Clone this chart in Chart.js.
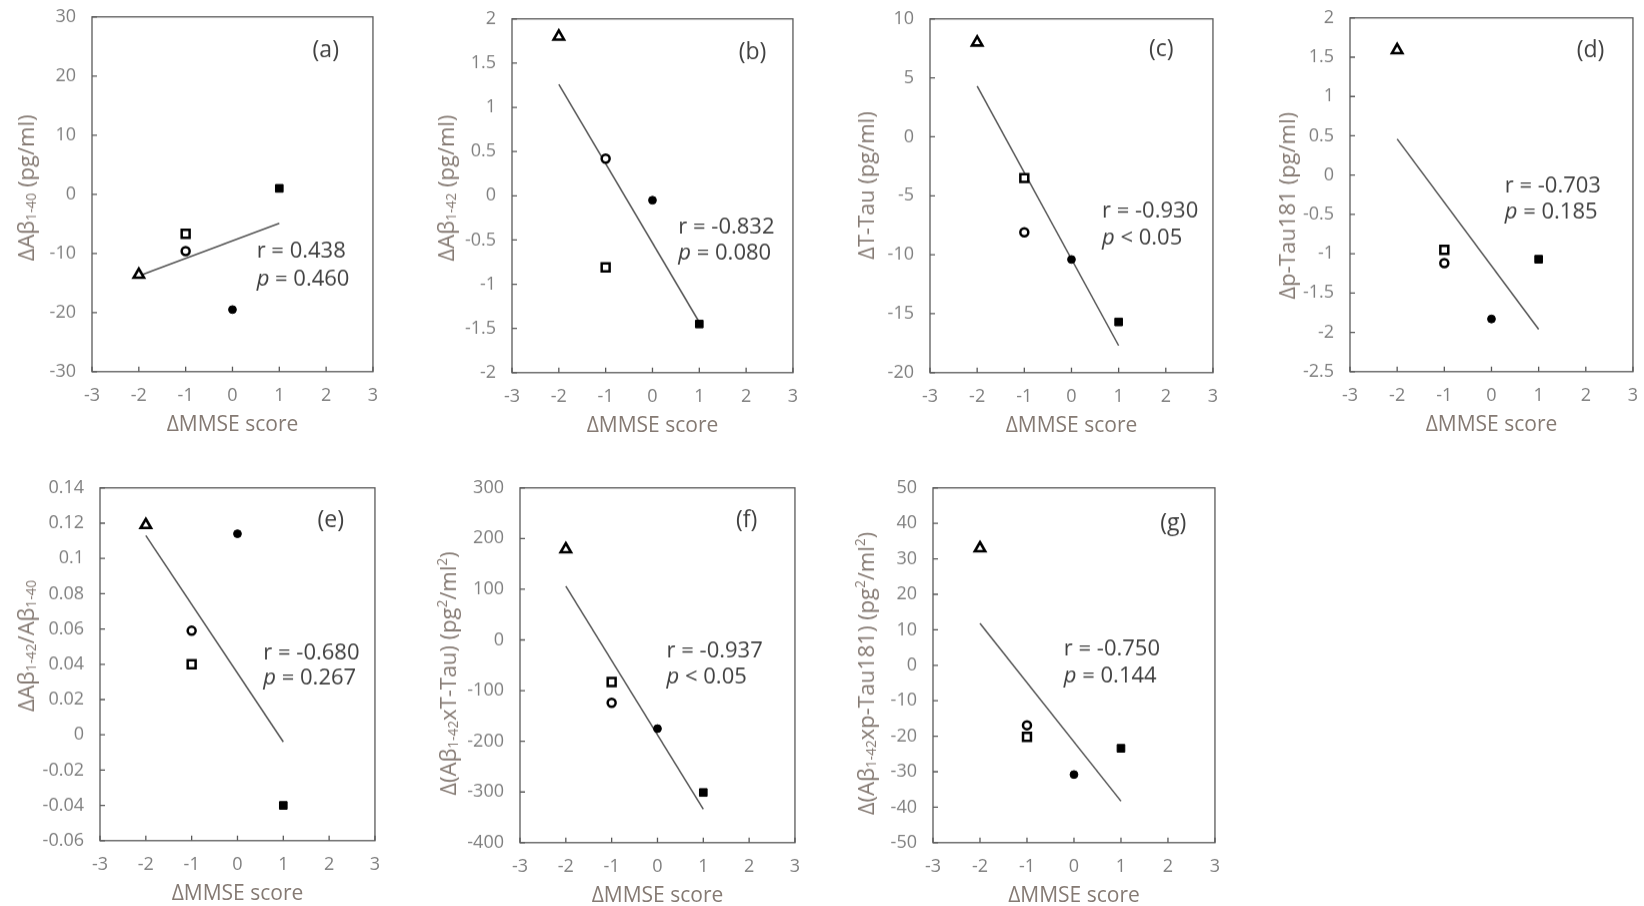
<!DOCTYPE html>
<html>
<head>
<meta charset="utf-8">
<script src="https://cdn.jsdelivr.net/npm/chart.js@4.4.1/dist/chart.umd.min.js"></script>
<style>
  html, body { margin: 0; padding: 0; background: #fff; overflow: hidden; }
  #wrap { position: relative; width: 1644px; height: 906px; }
  canvas { position: absolute; }
</style>
</head>
<body>
<div id="wrap"></div>
<script>
// subjects, in marker order: triangle, open circle, open square, filled circle, filled square
const mmse = [-2, -1, -1, 0, 1];
const fitX = [-2, 1];

const dAb40 = [-13.6, -9.6, -6.7, -19.5, 1.0];
const fitAb40 = [-13.8, -4.9];
const dAb42 = [1.80, 0.42, -0.81, -0.05, -1.45];
const fitAb42 = [1.26, -1.43];
const dTTau = [8.0, -8.1, -3.5, -10.4, -15.7];
const fitTTau = [4.3, -17.7];
const dPTau = [1.59, -1.12, -0.95, -1.83, -1.07];
const fitPTau = [0.46, -1.96];
const dRatio = [0.119, 0.059, 0.040, 0.114, -0.040];
const fitRatio = [0.113, -0.004];
const dAbxT = [179, -124, -83, -175, -301];
const fitAbxT = [106, -334];
const dAbxP = [33.0, -16.9, -20.2, -30.8, -23.4];
const fitAbxP = [11.8, -38.3];

const panelLetters = ['(a)', '(b)', '(c)', '(d)', '(e)', '(f)', '(g)'];
const rText = ['r = 0.438', 'r = -0.832', 'r = -0.930', 'r = -0.703', 'r = -0.680', 'r = -0.937', 'r = -0.750'];
const pText = [' = 0.460', ' = 0.080', ' < 0.05', ' = 0.185', ' = 0.267', ' < 0.05', ' = 0.144'];
const yTitles = [
  'ΔAβ_{1-40} (pg/ml)',
  'ΔAβ_{1-42} (pg/ml)',
  'ΔT-Tau (pg/ml)',
  'Δp-Tau181 (pg/ml)',
  'ΔAβ_{1-42}/Aβ_{1-40}',
  'Δ(Aβ_{1-42}xT-Tau) (pg^{2}/ml^{2})',
  'Δ(Aβ_{1-42}xp-Tau181) (pg^{2}/ml^{2})'
];
const xTitle = 'ΔMMSE score';
const yMin = [-30, -2, -20, -2.5, -0.06, -400, -50];
const yMax = [30, 2, 10, 2, 0.14, 300, 50];
const yStep = [10, 0.5, 5, 0.5, 0.02, 100, 10];

const ys = [dAb40, dAb42, dTTau, dPTau, dRatio, dAbxT, dAbxP];
const fits = [fitAb40, fitAb42, fitTTau, fitPTau, fitRatio, fitAbxT, fitAbxP];

// layout: plot box on the page, title offsets, annotation spots (fractions of plot area)
const boxes = [
  { l: 92, t: 17, r: 373, b: 371, yto: 64, ytm: 0.482, let: [0.832, 0.094], rp: [0.586, 0.661, 0.739] },
  { l: 512, t: 19, r: 793, b: 372, yto: 64, ytm: 0.478, let: [0.856, 0.095], rp: [0.592, 0.589, 0.664] },
  { l: 930, t: 19, r: 1213, b: 372, yto: 62, ytm: 0.471, let: [0.817, 0.088], rp: [0.608, 0.544, 0.619] },
  { l: 1350, t: 18, r: 1633, b: 371, yto: 61, ytm: 0.531, let: [0.850, 0.093], rp: [0.547, 0.476, 0.550] },
  { l: 100, t: 488, r: 375, b: 840, yto: 72, ytm: 0.448, let: [0.839, 0.094], rp: [0.594, 0.468, 0.541] },
  { l: 520, t: 488, r: 795, b: 842, yto: 70, ytm: 0.523, let: [0.824, 0.093], rp: [0.533, 0.459, 0.534] },
  { l: 933, t: 488, r: 1215, b: 842, yto: 65, ytm: 0.523, let: [0.852, 0.101], rp: [0.464, 0.456, 0.531] }
];

const YW = 90, XH = 70;
const FONT = '"Open Sans", "DejaVu Sans", sans-serif';
const tickColor = '#7f7f7f';
const titleColor = '#857a73';
const textColor = '#404040';
const axisColor = '#595959';

const markerStyle = ['triangle', 'circle', 'rect', 'circle', 'rect'];
const markerFill = ['#fff', '#fff', '#fff', '#000', '#000'];
const markerRadius = [6.0, 4.0, 5.6, 3.9, 5.4];
const markerBorder = [2.6, 2.5, 2.5, 1, 1];

function parseRich(s) {
  const out = [];
  const re = /([_^])\{([^}]*)\}|([^_^]+)/g;
  let m;
  while ((m = re.exec(s))) {
    if (m[3]) out.push({ t: m[3], k: 0 });
    else out.push({ t: m[2], k: m[1] === '_' ? -1 : 1 });
  }
  return out;
}

function drawRich(ctx, parts, x, y, size) {
  let w = 0;
  parts.forEach(p => {
    ctx.font = (p.k ? size * 0.62 : size) + 'px ' + FONT;
    p.w = ctx.measureText(p.t).width;
    w += p.w;
  });
  let cx = x - w / 2;
  parts.forEach(p => {
    ctx.font = (p.k ? size * 0.62 : size) + 'px ' + FONT;
    const dy = p.k < 0 ? size * 0.2 : p.k > 0 ? -size * 0.3 : 0;
    ctx.fillText(p.t, cx, y + dy);
    cx += p.w;
  });
}

const framePlugin = {
  id: 'frame',
  beforeDatasetsDraw(chart) {
    const { ctx, chartArea: a, scales } = chart;
    ctx.save();
    ctx.strokeStyle = axisColor;
    ctx.lineWidth = 1.3;
    ctx.strokeRect(a.left, a.top, a.right - a.left, a.bottom - a.top);
    ctx.beginPath();
    scales.x.ticks.forEach(t => {
      const px = scales.x.getPixelForValue(t.value);
      ctx.moveTo(px, a.bottom);
      ctx.lineTo(px, a.bottom - 5);
    });
    scales.y.ticks.forEach(t => {
      const py = scales.y.getPixelForValue(t.value);
      ctx.moveTo(a.left, py);
      ctx.lineTo(a.left + 5, py);
    });
    ctx.stroke();
    ctx.restore();
  },
  afterDraw(chart) {
    const o = chart.options.plugins.frame;
    const { ctx, chartArea: a } = chart;
    const w = a.right - a.left, h = a.bottom - a.top;
    ctx.save();
    ctx.textBaseline = 'middle';
    // y title
    ctx.fillStyle = titleColor;
    ctx.translate(a.left - o.yto, a.top + o.ytm * h);
    ctx.rotate(-Math.PI / 2);
    drawRich(ctx, parseRich(o.yTitle), 0, 0, 22);
    ctx.setTransform(1, 0, 0, 1, 0, 0);
    // panel letter
    ctx.fillStyle = textColor;
    ctx.textAlign = 'center';
    ctx.font = '23px ' + FONT;
    ctx.fillText(o.letter, a.left + o.let[0] * w, a.top + o.let[1] * h);
    // r and p
    ctx.textAlign = 'left';
    ctx.font = '22px ' + FONT;
    const x0 = a.left + o.rp[0] * w;
    ctx.fillText(o.r, x0, a.top + o.rp[1] * h);
    ctx.font = 'italic 22px ' + FONT;
    ctx.fillText('p', x0, a.top + o.rp[2] * h);
    const pw = ctx.measureText('p').width;
    ctx.font = '22px ' + FONT;
    ctx.fillText(o.p, x0 + pw, a.top + o.rp[2] * h);
    ctx.restore();
  }
};

const fmt = v => String(+v.toFixed(4));
const wrap = document.getElementById('wrap');

boxes.forEach((b, i) => {
  const cv = document.createElement('canvas');
  const pw = b.r - b.l, ph = b.b - b.t;
  cv.width = pw + 130;
  cv.height = ph + 110;
  wrap.appendChild(cv);

  const chart = new Chart(cv, {
    type: 'scatter',
    data: {
      datasets: [{
        data: mmse.map((x, k) => ({ x: x, y: ys[i][k] })),
        pointStyle: markerStyle,
        pointRadius: markerRadius,
        pointBackgroundColor: markerFill,
        pointBorderColor: '#000',
        pointBorderWidth: markerBorder
      }, {
        type: 'line',
        data: fitX.map((x, k) => ({ x: x, y: fits[i][k] })),
        borderColor: '#555',
        borderWidth: 1.5,
        pointRadius: 0,
        fill: false
      }]
    },
    options: {
      responsive: false,
      maintainAspectRatio: false,
      animation: false,
      layout: { padding: 0 },
      plugins: {
        legend: { display: false },
        tooltip: { enabled: false },
        frame: { yTitle: yTitles[i], letter: panelLetters[i], r: rText[i], p: pText[i],
                 yto: b.yto, ytm: b.ytm, let: b.let, rp: b.rp }
      },
      scales: {
        x: {
          type: 'linear', min: -3, max: 3,
          ticks: { stepSize: 1, padding: 13, color: tickColor, font: { family: FONT, size: 18 }, callback: fmt },
          grid: { display: false, drawTicks: false },
          border: { display: false },
          title: { display: true, text: xTitle, color: titleColor, font: { family: FONT, size: 21 }, padding: { top: 0, bottom: 4 } },
          afterFit: s => { s.height = XH; }
        },
        y: {
          type: 'linear', min: yMin[i], max: yMax[i],
          ticks: { stepSize: yStep[i], padding: 16, color: tickColor, font: { family: FONT, size: 18 }, callback: fmt },
          grid: { display: false, drawTicks: false },
          border: { display: false },
          afterFit: s => { s.width = YW; }
        }
      }
    },
    plugins: [framePlugin]
  });

  // margins around the plot area do not depend on canvas size: size the canvas so the plot box lands on b
  const a = chart.chartArea;
  const ml = a.left, mt = a.top, mr = cv.width - a.right, mb = cv.height - a.bottom;
  chart.resize(pw + ml + mr, ph + mt + mb);
  cv.style.left = (b.l - ml) + 'px';
  cv.style.top = (b.t - mt) + 'px';
});
</script>
</body>
</html>
